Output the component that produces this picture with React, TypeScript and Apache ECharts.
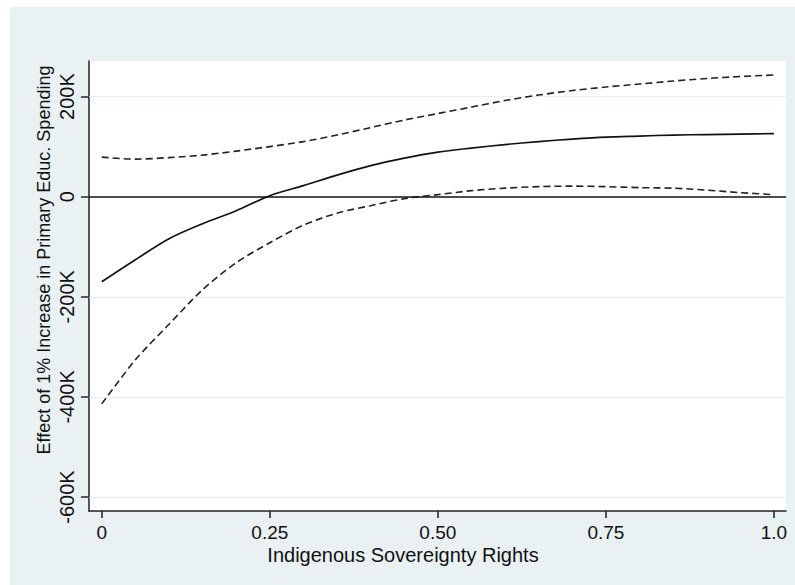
import React, { useEffect, useRef } from "react";
import * as echarts from "echarts";

const xValues = [0, 0.05, 0.1, 0.15, 0.2, 0.25, 0.3, 0.35, 0.4, 0.45, 0.5, 0.55, 0.6, 0.65, 0.7, 0.75, 0.8, 0.85, 0.9, 0.95, 1.0];
const effect = [-170000, -126000, -84000, -54000, -28000, 2000, 22000, 43000, 62000, 77000, 89000, 97000, 104000, 110000, 115000, 119000, 121000, 123000, 124000, 125000, 126000];
const upper = [79000, 75000, 78000, 83000, 91000, 100000, 110000, 123000, 138000, 153000, 166000, 179000, 192000, 203000, 212000, 219000, 225000, 231000, 236000, 240000, 243000];
const lower = [-414000, -326000, -255000, -186000, -132000, -92000, -57000, -33000, -18000, -4000, 4000, 12000, 17000, 20000, 21000, 20000, 18000, 17000, 13000, 8000, 4000];

const yTicks = [-600000, -400000, -200000, 0, 200000];
const xTicks = [0, 0.25, 0.5, 0.75, 1.0];
const xTickLabels = ["0", "0.25", "0.50", "0.75", "1.0"];
const gridValues = [-600000, -400000, -200000, 200000];

const xTitle = "Indigenous Sovereignty Rights";
const yTitle = "Effect of 1% Increase in Primary Educ. Spending";

const FONT = "Liberation Sans, Arial, sans-serif";

export default function App() {
  const ref = useRef<HTMLDivElement>(null);
  useEffect(() => {
    document.body.style.margin = "0";
    if (!ref.current) return;
    const chart = echarts.init(ref.current, null, { renderer: "svg" });
    const pair = (ys: number[]) => xValues.map((x, i) => [x, ys[i]]);
    chart.setOption({
      animation: false,
      backgroundColor: "#E9F1F3",
      graphic: [
        { type: "rect", shape: { x: 0, y: 0, width: 10, height: 585 }, style: { fill: "#ffffff" }, silent: true },
        { type: "rect", shape: { x: 0, y: 0, width: 795, height: 7 }, style: { fill: "#ffffff" }, silent: true },
        {
          type: "text",
          x: 44,
          y: 260,
          rotation: Math.PI / 2,
          style: { text: yTitle, fill: "#111", font: `18px ${FONT}`, textAlign: "center", textVerticalAlign: "middle", lineHeight: 16 },
          silent: true,
        },
        {
          type: "text",
          x: 403,
          y: 555,
          style: { text: xTitle, fill: "#111", font: `20px ${FONT}`, textAlign: "center", textVerticalAlign: "middle", lineHeight: 15 },
          silent: true,
        },
      ],
      grid: {
        left: 89,
        top: 61,
        right: 9,
        bottom: 74,
        show: true,
        backgroundColor: "#ffffff",
        borderWidth: 0,
      },
      xAxis: {
        type: "value",
        min: -0.019,
        max: 1.018,
        axisLine: { show: true, onZero: false, lineStyle: { color: "#222", width: 1.5 } },
        axisTick: { show: true, length: 7, customValues: xTicks, lineStyle: { color: "#222", width: 1.5 } },
        axisLabel: {
          customValues: xTicks,
          margin: 14,
          fontSize: 19,
          lineHeight: 15,
          fontFamily: FONT,
          color: "#111",
          formatter: (v: number) => {
            const i = xTicks.findIndex((t) => Math.abs(t - v) < 1e-9);
            return i >= 0 ? xTickLabels[i] : "";
          },
        },
        splitLine: { show: false },
      },
      yAxis: {
        type: "value",
        min: -628000,
        max: 271000,
        axisLine: { show: true, onZero: false, lineStyle: { color: "#222", width: 1.5 } },
        axisTick: { show: true, length: 8, customValues: yTicks, lineStyle: { color: "#222", width: 1.5 } },
        axisLabel: {
          customValues: yTicks,
          rotate: 90,
          margin: 12,
          fontSize: 20,
          fontFamily: FONT,
          color: "#111",
          formatter: (v: number) => (v === 0 ? "0" : `${Math.round(v / 1000)}K`),
        },
        splitLine: { show: false },
      },
      series: [
        {
          type: "line",
          data: pair(upper),
          showSymbol: false,
          smooth: 0.3,
          lineStyle: { color: "#222", width: 1.6, type: [7, 4] },
          z: 3,
          markLine: {
            silent: true,
            symbol: "none",
            label: { show: false },
            lineStyle: { color: "#E6EEF0", width: 1, type: "solid" },
            data: gridValues.map((v) => ({ yAxis: v })),
            z: 1,
          },
        },
        {
          type: "line",
          data: pair(lower),
          showSymbol: false,
          smooth: 0.3,
          lineStyle: { color: "#222", width: 1.6, type: [7, 4] },
          z: 3,
        },
        {
          type: "line",
          data: pair(effect),
          showSymbol: false,
          smooth: 0.3,
          lineStyle: { color: "#111", width: 1.6, type: "solid" },
          z: 4,
          markLine: {
            silent: true,
            symbol: "none",
            label: { show: false },
            lineStyle: { color: "#111", width: 1.5, type: "solid" },
            data: [{ yAxis: 0 }],
          },
        },
      ],
    });
    return () => chart.dispose();
  }, []);
  return <div ref={ref} style={{ width: 795, height: 585 }} />;
}
